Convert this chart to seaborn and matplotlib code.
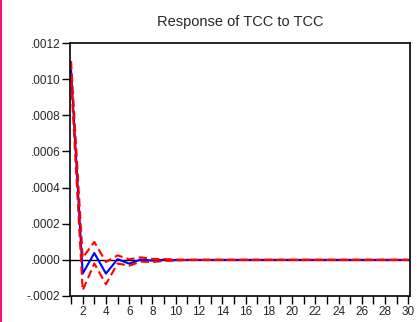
import numpy as np
import pandas as pd
import matplotlib
matplotlib.use("Agg")
import matplotlib.pyplot as plt
import seaborn as sns
from matplotlib.patches import Rectangle

periods = list(range(1, 31))
response = [0.00105, -0.000076, 0.000038, -0.000076, 0.000004, -0.000021, 0.000002,
            -0.000004, 0.000001, -0.000001] + [0.0] * 20
upper = [0.00110, 0.000012, 0.000099, -0.000012, 0.000025, 0.000003, 0.000014,
         0.000005, 0.000004, 0.000002] + [0.0] * 20
lower = [0.00100, -0.000169, -0.000020, -0.000135, -0.000020, -0.000032, -0.000010,
         -0.000012, -0.000006, -0.000004] + [0.0] * 20
yticks = [-0.0002, 0.0, 0.0002, 0.0004, 0.0006, 0.0008, 0.0010, 0.0012]
xticks = list(range(1, 31))
title = "Response of TCC to TCC"

sns.set_style("white")
plt.rcParams["font.family"] = ["Liberation Sans", "DejaVu Sans"]

df = pd.DataFrame({
    "period": periods * 3,
    "value": response + upper + lower,
    "series": ["resp"] * 30 + ["up"] * 30 + ["lo"] * 30,
})

fig = plt.figure(figsize=(4.17, 3.22), dpi=100)
ax = fig.add_axes([70 / 417, 1 - 296 / 322, (409.5 - 70) / 417, (296 - 43) / 322])

ax.axhline(0, color="black", lw=1.0, zorder=1)
sns.lineplot(data=df[df.series == "up"], x="period", y="value", ax=ax,
             color="#ff0000", lw=1.5, zorder=2)
sns.lineplot(data=df[df.series == "lo"], x="period", y="value", ax=ax,
             color="#ff0000", lw=1.5, zorder=2)
sns.lineplot(data=df[df.series == "resp"], x="period", y="value", ax=ax,
             color="#0000ff", lw=1.5, zorder=3)
for ln in ax.lines[1:3]:
    ln.set_dashes((4, 2))
ax.lines[3].set_zorder(1.5)

ax.set_xlim(0.91, 30.1)
ax.set_ylim(-0.0002, 0.0012)
ax.set_xticks(xticks)
ax.set_xticklabels([str(t) if t % 2 == 0 else "" for t in xticks], fontsize=8.5)
ax.set_yticks(yticks)
ax.set_yticklabels([("-" if v < 0 else "") + f"{abs(v):.4f}".lstrip("0") for v in yticks],
                   fontsize=8.5)
ax.tick_params(axis="both", direction="out", length=5.5, width=1, color="black",
               bottom=True, left=True, pad=1.5)
ax.set_xlabel("")
ax.set_ylabel("")
for s in ax.spines.values():
    s.set_color("black")
    s.set_linewidth(1.2)
ax.set_title(title, fontsize=10.5, pad=12)
if ax.get_legend():
    ax.get_legend().remove()

fig.patches.append(Rectangle((0, 0), 2.2 / 417, 1, transform=fig.transFigure,
                             color="#ff0a78", zorder=0, antialiased=False, lw=0))
fig.savefig("out.png", dpi=100)
